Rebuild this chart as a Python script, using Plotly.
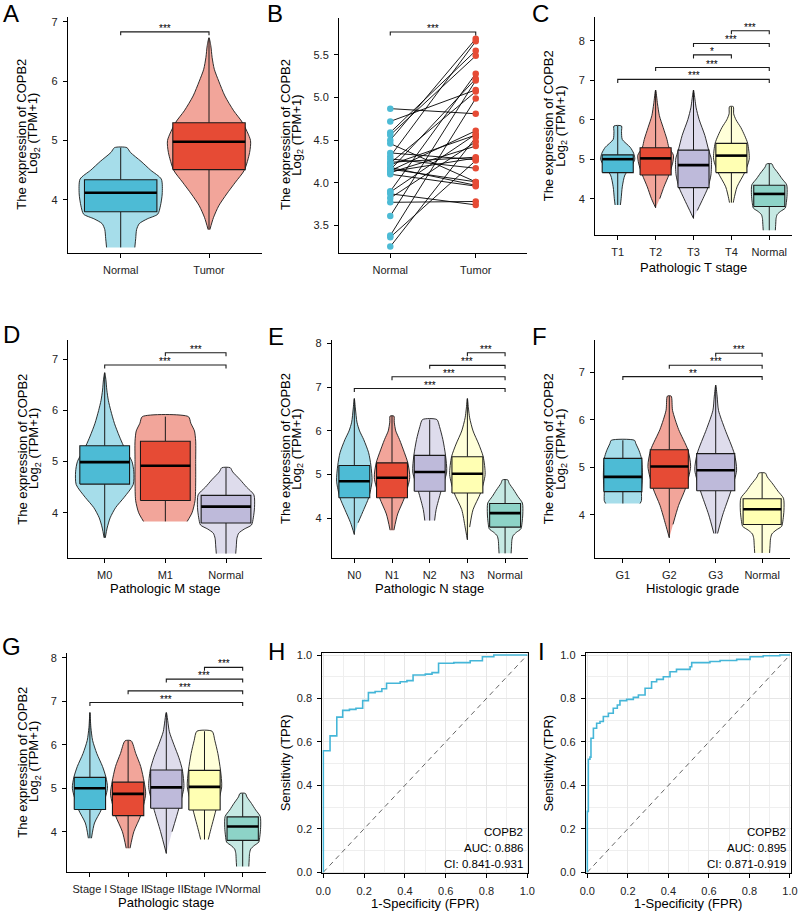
import plotly.graph_objects as go

FIG_W, FIG_H = 800, 912
FONT = "Liberation Sans, Arial, Helvetica, sans-serif"

# ---------------- data ----------------
A_CATS = ["Normal", "Tumor"]
B_CATS = ["Normal", "Tumor"]
C_CATS = ["T1", "T2", "T3", "T4", "Normal"]
D_CATS = ["M0", "M1", "Normal"]
E_CATS = ["N0", "N1", "N2", "N3", "Normal"]
F_CATS = ["G1", "G2", "G3", "Normal"]
G_CATS = ["Stage I", "Stage II", "Stage III", "Stage IV", "Normal"]

# box statistics: [min, q1, median, q3, max]
ST_NORMAL = [3.20, 3.80, 4.12, 4.34, 4.88]
ST_TUMOR = [3.50, 4.51, 4.98, 5.30, 6.73]
ST_T1 = [3.84, 4.66, 5.00, 5.11, 5.84]
ST_T2 = [3.77, 4.60, 5.02, 5.29, 6.75]
ST_T3 = [3.50, 4.28, 4.85, 5.23, 6.75]
ST_T4 = [3.90, 4.66, 5.09, 5.40, 6.33]
ST_M0 = [3.51, 4.56, 4.99, 5.31, 6.74]
ST_M1 = [3.83, 4.24, 4.92, 5.40, 5.88]
ST_N0 = [3.63, 4.47, 4.85, 5.21, 6.74]
ST_N1 = [3.73, 4.47, 4.93, 5.27, 6.34]
ST_N2 = [3.95, 4.62, 5.06, 5.44, 6.26]
ST_N3 = [3.51, 4.58, 5.02, 5.41, 6.74]
ST_G1 = [4.24, 4.49, 4.80, 5.19, 5.57]
ST_G2 = [3.52, 4.56, 5.02, 5.37, 6.50]
ST_G3 = [3.61, 4.51, 4.94, 5.29, 6.73]
ST_S1 = [3.85, 4.51, 5.00, 5.25, 6.74]
ST_S2 = [3.62, 4.37, 4.87, 5.14, 6.09]
ST_S3 = [3.50, 4.54, 5.02, 5.42, 6.74]
ST_S4 = [3.82, 4.50, 5.03, 5.41, 6.31]

# violin density outlines: expression levels and relative density (1 = widest)
DY_NORMAL = [3.20, 3.35, 3.50, 3.60, 3.68, 3.76, 3.90, 4.10, 4.35, 4.50, 4.65, 4.80, 4.88]
DW_NORMAL = [0.32, 0.34, 0.36, 0.42, 0.60, 0.84, 0.90, 0.94, 0.92, 0.68, 0.46, 0.22, 0.14]
DY_TUMOR = [3.50, 3.70, 3.90, 4.10, 4.30, 4.50, 4.80, 5.00, 5.30, 5.50, 5.75, 6.00, 6.20, 6.40, 6.60, 6.73]
DW_TUMOR = [0.02, 0.10, 0.22, 0.40, 0.60, 0.80, 0.92, 0.94, 0.76, 0.56, 0.36, 0.22, 0.12, 0.07, 0.04, 0.0]
DY_T1 = [3.84, 4.00, 4.30, 4.60, 4.80, 5.00, 5.15, 5.30, 5.50, 5.70, 5.84]
DW_T1 = [0.14, 0.18, 0.24, 0.38, 0.70, 0.90, 0.84, 0.66, 0.24, 0.20, 0.20]
DY_T2 = [3.77, 4.00, 4.30, 4.60, 4.90, 5.10, 5.30, 5.50, 5.80, 6.10, 6.40, 6.75]
DW_T2 = [0.0, 0.22, 0.44, 0.70, 0.90, 0.94, 0.70, 0.60, 0.40, 0.20, 0.10, 0.0]
DY_T3 = [3.50, 3.70, 4.00, 4.28, 4.60, 5.00, 5.23, 5.60, 6.00, 6.30, 6.50, 6.75]
DW_T3 = [0.0, 0.20, 0.50, 0.76, 0.92, 0.94, 0.80, 0.60, 0.30, 0.14, 0.08, 0.0]
DY_T4 = [3.90, 4.00, 4.30, 4.66, 5.00, 5.40, 5.60, 5.80, 6.00, 6.15, 6.33]
DW_T4 = [0.10, 0.14, 0.30, 0.70, 0.94, 0.86, 0.70, 0.50, 0.24, 0.12, 0.10]
DY_M0 = [3.51, 3.70, 3.90, 4.10, 4.30, 4.55, 4.80, 5.00, 5.31, 5.50, 5.75, 6.00, 6.20, 6.40, 6.60, 6.74]
DW_M0 = [0.02, 0.08, 0.18, 0.36, 0.64, 0.94, 0.96, 0.90, 0.62, 0.48, 0.32, 0.20, 0.12, 0.07, 0.04, 0.0]
DY_M1 = [3.83, 4.00, 4.24, 4.60, 5.00, 5.40, 5.60, 5.75, 5.88]
DW_M1 = [0.72, 0.88, 0.98, 1.0, 1.0, 1.0, 0.96, 0.84, 0.76]
DY_N0 = [3.63, 3.90, 4.20, 4.47, 4.85, 5.21, 5.50, 5.80, 6.00, 6.20, 6.50, 6.74]
DW_N0 = [0.0, 0.20, 0.50, 0.76, 0.94, 0.88, 0.76, 0.50, 0.28, 0.14, 0.06, 0.0]
DY_N1 = [3.73, 4.10, 4.47, 4.93, 5.27, 5.50, 5.80, 6.00, 6.20, 6.34]
DW_N1 = [0.10, 0.30, 0.66, 0.94, 0.84, 0.66, 0.40, 0.20, 0.12, 0.10]
DY_N2 = [3.95, 4.20, 4.62, 5.06, 5.44, 5.80, 6.10, 6.26]
DW_N2 = [0.26, 0.34, 0.60, 0.90, 0.84, 0.70, 0.52, 0.38]
DY_N3 = [3.51, 3.80, 4.20, 4.58, 5.00, 5.41, 5.70, 6.00, 6.30, 6.50, 6.74]
DW_N3 = [0.0, 0.12, 0.30, 0.70, 0.94, 0.84, 0.60, 0.30, 0.12, 0.06, 0.0]
DY_G1 = [4.24, 4.30, 4.49, 4.80, 5.19, 5.35, 5.50, 5.57]
DW_G1 = [0.74, 0.80, 0.80, 0.84, 0.80, 0.70, 0.56, 0.50]
DY_G2 = [3.52, 3.80, 4.20, 4.56, 5.02, 5.37, 5.80, 6.20, 6.50]
DW_G2 = [0.0, 0.16, 0.40, 0.70, 0.92, 0.80, 0.40, 0.14, 0.08]
DY_G3 = [3.61, 4.00, 4.51, 4.94, 5.29, 5.80, 6.20, 6.50, 6.73]
DW_G3 = [0.08, 0.30, 0.66, 0.90, 0.80, 0.40, 0.12, 0.06, 0.0]
DY_S1 = [3.85, 4.20, 4.51, 5.00, 5.25, 5.50, 5.80, 6.10, 6.40, 6.74]
DW_S1 = [0.08, 0.24, 0.60, 0.92, 0.84, 0.66, 0.36, 0.14, 0.05, 0.0]
DY_S2 = [3.62, 4.00, 4.37, 4.87, 5.14, 5.50, 5.80, 6.09]
DW_S2 = [0.10, 0.30, 0.66, 0.92, 0.84, 0.66, 0.40, 0.16]
DY_S3 = [3.50, 4.00, 4.54, 5.02, 5.42, 5.70, 6.00, 6.30, 6.74]
DW_S3 = [0.0, 0.30, 0.66, 0.92, 0.84, 0.66, 0.40, 0.16, 0.0]
DY_S4 = [3.82, 4.00, 4.50, 5.03, 5.41, 5.80, 6.10, 6.31]
DW_S4 = [0.20, 0.30, 0.60, 0.90, 0.84, 0.70, 0.54, 0.40]

# significance comparisons: (group a, group b, label)
A_SIG = [(0, 1, "***")]
B_SIG = [(0, 1, "***")]
C_SIG = [(3, 4, "***"), (2, 4, "***"), (2, 3, "*"), (1, 4, "***"), (0, 4, "***")]
D_SIG = [(1, 2, "***"), (0, 2, "***")]
E_SIG = [(3, 4, "***"), (2, 4, "***"), (1, 4, "***"), (0, 4, "***")]
F_SIG = [(2, 3, "***"), (1, 3, "***"), (0, 3, "**")]
G_SIG = [(3, 4, "***"), (2, 4, "***"), (1, 4, "***"), (0, 4, "***")]

# paired samples (panel B)
B_NORMAL = [4.87, 4.72, 4.59, 4.56, 4.50, 4.46, 4.35, 4.31, 4.28, 4.24, 4.21, 4.18, 4.15, 4.14,
            4.12, 4.10, 3.90, 3.87, 3.82, 3.77, 3.61, 3.38, 3.36, 3.25, 4.23, 4.16, 4.13, 3.89]
B_TUMOR = [4.81, 5.09, 5.55, 5.49, 5.69, 4.01, 4.27, 5.66, 4.17, 4.30, 4.56, 3.97, 5.22, 4.61,
           4.43, 3.96, 5.28, 3.74, 4.48, 3.78, 5.20, 4.99, 4.26, 4.53, 5.07, 4.01, 4.29, 4.57]

# ROC curves (step vertices)
H_FPR = [0.0, 0.0, 0.033, 0.066, 0.095, 0.128, 0.16, 0.193, 0.221, 0.254, 0.287, 0.31, 0.377,
         0.41, 0.44, 0.50, 0.533, 0.565, 0.64, 0.72, 0.78, 0.836, 1.0]
H_TPR = [0.0, 0.559, 0.628, 0.714, 0.745, 0.750, 0.755, 0.79, 0.827, 0.832, 0.845, 0.87, 0.877,
         0.882, 0.908, 0.912, 0.919, 0.962, 0.965, 0.974, 0.992, 1.0, 1.0]
I_FPR = [0.0, 0.0, 0.005, 0.013, 0.018, 0.03, 0.046, 0.0625, 0.079, 0.104, 0.128, 0.148, 0.161,
         0.194, 0.227, 0.252, 0.276, 0.285, 0.317, 0.342, 0.375, 0.408, 0.44, 0.507, 0.515, 0.605,
         0.655, 0.737, 0.803, 0.868, 0.95, 1.0]
I_TPR = [0.0, 0.28, 0.52, 0.53, 0.617, 0.663, 0.686, 0.694, 0.717, 0.732, 0.755, 0.77, 0.79,
         0.796, 0.805, 0.816, 0.816, 0.847, 0.877, 0.888, 0.9, 0.923, 0.934, 0.946, 0.965, 0.97,
         0.975, 0.98, 0.992, 0.997, 1.0, 1.0]
H_TEXT = ["COPB2", "AUC: 0.886", "CI: 0.841-0.931"]
I_TEXT = ["COPB2", "AUC: 0.895", "CI: 0.871-0.919"]

# ---------------- styles ----------------
PAL = ["#4DBBD5", "#E64B35", "#BEBADA", "#FFFFB3", "#8DD3C7"]
LINE = "#1a1a1a"
VHALF = 0.5   # max violin half width (category units)
BHALF = 0.41  # box half width
TICK_COL = "#222222"
ROC_COL = "#45B6D8"


def light(hexc, a=0.5):
    h = hexc.lstrip("#")
    r, g, b = int(h[0:2], 16), int(h[2:4], 16), int(h[4:6], 16)
    return f"rgba({r},{g},{b},{a})"


def px_x(p):
    return p / FIG_W


def px_y(p):
    return 1 - p / FIG_H


fig = go.Figure()
layout = dict(
    width=FIG_W, height=FIG_H, margin=dict(l=0, r=0, t=0, b=0),
    paper_bgcolor="white", plot_bgcolor="white", template="none",
    showlegend=False, font=dict(family=FONT, color="black"),
)
annotations = []


def axis_names(n):
    return ("xaxis" if n == 1 else f"xaxis{n}", "yaxis" if n == 1 else f"yaxis{n}",
            "x" if n == 1 else f"x{n}", "y" if n == 1 else f"y{n}")


def classic_axes(n, box, xr, yr, cats, ytickvals, yfmt=None):
    xk, yk, xa, ya = axis_names(n)
    x0, x1, y0, y1 = box
    common = dict(showline=True, linecolor="black", linewidth=1, mirror=False, ticks="outside",
                  ticklen=4, tickwidth=1, tickcolor="black", showgrid=False, zeroline=False,
                  tickfont=dict(size=11, color=TICK_COL, family=FONT), ticklabelstandoff=3)
    layout[xk] = dict(domain=[px_x(x0), px_x(x1)], range=list(xr), anchor=ya,
                      tickvals=list(range(len(cats))), ticktext=cats, tickangle=0, **common)
    yd = dict(domain=[px_y(y1), px_y(y0)], range=list(yr), anchor=xa, tickvals=ytickvals, **common)
    if yfmt:
        yd["tickformat"] = yfmt
    layout[yk] = yd


def add_brackets(n, box, yr, sigs, levels):
    _, _, xa, ya = axis_names(n)
    ppu = (box[3] - box[2]) / (yr[1] - yr[0])
    d = 3.5 / ppu
    for (a, b, lab), lv in zip(sigs, levels):
        fig.add_trace(go.Scatter(x=[a, a, b, b], y=[lv - d, lv, lv, lv - d], mode="lines",
                                 line=dict(color=LINE, width=1.1), xaxis=xa, yaxis=ya,
                                 hoverinfo="skip"))
        annotations.append(dict(x=(a + b) / 2, y=lv, xref=xa, yref=ya, text=lab, showarrow=False,
                                yanchor="middle", yshift=3.5,
                                font=dict(size=10, color="black", family=FONT)))


def violin_panel(n, box, xr, yr, cats, stats, dens, sigs, levels, yt):
    _, _, xa, ya = axis_names(n)
    classic_axes(n, box, xr, yr, cats, yt)
    for i, (st, (dy, dw)) in enumerate(zip(stats, dens)):
        col = PAL[i]
        lx = [i - VHALF * w for w in dw]
        ly = list(dy)
        rx = [i + VHALF * w for w in dw][::-1]
        ry = list(dy)[::-1]
        if dw[-1] == 0:
            rx, ry = rx[1:], ry[1:]
        if dw[0] == 0:
            rx, ry = rx[:-1], ry[:-1]
        fig.add_trace(go.Scatter(x=lx + rx, y=ly + ry, mode="lines", fill="toself",
                                 fillcolor=light(col),
                                 line=dict(color=LINE, width=0.9, shape="spline", smoothing=0.7),
                                 xaxis=xa, yaxis=ya, hoverinfo="skip"))
        mn, q1, md, q3, mx = st
        fig.add_trace(go.Scatter(x=[i, i, None, i, i], y=[mn, q1, None, q3, mx], mode="lines",
                                 line=dict(color=LINE, width=1), xaxis=xa, yaxis=ya,
                                 hoverinfo="skip"))
        fig.add_trace(go.Scatter(x=[i - BHALF, i + BHALF, i + BHALF, i - BHALF, i - BHALF],
                                 y=[q1, q1, q3, q3, q1], mode="lines", fill="toself",
                                 fillcolor=col, line=dict(color=LINE, width=1.1),
                                 xaxis=xa, yaxis=ya, hoverinfo="skip"))
        fig.add_trace(go.Scatter(x=[i - BHALF, i + BHALF], y=[md, md], mode="lines",
                                 line=dict(color="black", width=2.6), xaxis=xa, yaxis=ya,
                                 hoverinfo="skip"))
    add_brackets(n, box, yr, sigs, levels)


def ylab(xc1, xc2, yc, two=True, text1="The expression of COPB2"):
    annotations.append(dict(x=px_x(xc1), y=px_y(yc), xref="paper", yref="paper", text=text1,
                            textangle=-90, showarrow=False, xanchor="center", yanchor="middle",
                            font=dict(size=13, color="black")))
    if two:
        annotations.append(dict(x=px_x(xc2), y=px_y(yc), xref="paper", yref="paper",
                                text="Log<sub>2</sub> (TPM+1)", textangle=-90, showarrow=False,
                                xanchor="center", yanchor="middle",
                                font=dict(size=13, color="black")))


def xlab(xc, yc, text):
    annotations.append(dict(x=px_x(xc), y=px_y(yc), xref="paper", yref="paper", text=text,
                            showarrow=False, xanchor="center", yanchor="middle",
                            font=dict(size=13, color="black")))


def letter(x, yc, t):
    annotations.append(dict(x=px_x(x), y=px_y(yc), xref="paper", yref="paper", text=t,
                            showarrow=False, xanchor="left", yanchor="middle",
                            font=dict(size=24, color="black")))


# ---- A ----
box_A = (67.7, 262.0, 17, 253)
violin_panel(1, box_A, (-0.6, 1.6), (3.106, 7.08), A_CATS, [ST_NORMAL, ST_TUMOR],
             [(DY_NORMAL, DW_NORMAL), (DY_TUMOR, DW_TUMOR)], A_SIG, [6.83], [4, 5, 6, 7])
ylab(21.7, 34, 134)
letter(1, 13.5, "A")

# ---- B ----
box_B = (339, 527, 18, 253)
classic_axes(2, box_B, (-0.6, 1.6), (3.175, 5.934), B_CATS, [3.5, 4.0, 4.5, 5.0, 5.5], ".1f")
lx, ly = [], []
for a, b in zip(B_NORMAL, B_TUMOR):
    lx += [0, 1, None]
    ly += [a, b, None]
fig.add_trace(go.Scatter(x=lx, y=ly, mode="lines", line=dict(color="black", width=0.9),
                         xaxis="x2", yaxis="y2", hoverinfo="skip"))
fig.add_trace(go.Scatter(x=[0] * len(B_NORMAL), y=B_NORMAL, mode="markers",
                         marker=dict(color=PAL[0], size=6.5), xaxis="x2", yaxis="y2"))
fig.add_trace(go.Scatter(x=[1] * len(B_TUMOR), y=B_TUMOR, mode="markers",
                         marker=dict(color=PAL[1], size=6.5), xaxis="x2", yaxis="y2"))
add_brackets(2, box_B, (3.175, 5.934), B_SIG, [5.77])
ylab(285, 296.7, 135)
letter(265, 13.5, "B")

# ---- C ----
box_C = (595, 792, 17, 235)
violin_panel(3, box_C, (-0.6, 4.6), (3.08, 8.6), C_CATS, [ST_T1, ST_T2, ST_T3, ST_T4, ST_NORMAL],
             [(DY_T1, DW_T1), (DY_T2, DW_T2), (DY_T3, DW_T3), (DY_T4, DW_T4),
              (DY_NORMAL, DW_NORMAL)], C_SIG, [8.25, 7.93, 7.64, 7.32, 7.02], [4, 5, 6, 7, 8])
ylab(548.3, 560.7, 126)
xlab(693.5, 267, "Pathologic T stage")
letter(530, 13.5, "C")

# ---- D ----
box_D = (68.3, 262.4, 340, 557.7)
violin_panel(4, box_D, (-0.6, 2.6), (3.12, 7.38), D_CATS, [ST_M0, ST_M1, ST_NORMAL],
             [(DY_M0, DW_M0), (DY_M1, DW_M1), (DY_NORMAL, DW_NORMAL)], D_SIG, [7.13, 6.89],
             [4, 5, 6, 7])
ylab(21.7, 34, 449)
xlab(165.4, 588, "Pathologic M stage")
letter(1, 334, "D")

# ---- E ----
box_E = (331.7, 527.7, 340, 557.7)
violin_panel(5, box_E, (-0.6, 4.6), (3.1, 8.08), E_CATS, [ST_N0, ST_N1, ST_N2, ST_N3, ST_NORMAL],
             [(DY_N0, DW_N0), (DY_N1, DW_N1), (DY_N2, DW_N2), (DY_N3, DW_N3),
              (DY_NORMAL, DW_NORMAL)], E_SIG, [7.79, 7.50, 7.24, 6.97], [4, 5, 6, 7, 8])
ylab(285, 296.7, 449)
xlab(429.7, 588, "Pathologic N stage")
letter(266, 336.5, "E")

# ---- F ----
box_F = (595, 790, 340, 557.7)
violin_panel(6, box_F, (-0.6, 3.6), (3.1, 7.68), F_CATS, [ST_G1, ST_G2, ST_G3, ST_NORMAL],
             [(DY_G1, DW_G1), (DY_G2, DW_G2), (DY_G3, DW_G3), (DY_NORMAL, DW_NORMAL)],
             F_SIG, [7.40, 7.15, 6.91], [4, 5, 6, 7])
ylab(548.3, 560.7, 449)
xlab(692.5, 588, "Histologic grade")
letter(530, 336.5, "F")

# ---- G ----
box_G = (67.0, 265.6, 653, 871.7)
violin_panel(7, box_G, (-0.6, 4.6), (3.08, 8.11), G_CATS, [ST_S1, ST_S2, ST_S3, ST_S4, ST_NORMAL],
             [(DY_S1, DW_S1), (DY_S2, DW_S2), (DY_S3, DW_S3), (DY_S4, DW_S4),
              (DY_NORMAL, DW_NORMAL)], G_SIG, [7.78, 7.51, 7.24, 6.97], [4, 5, 6, 7, 8])
ylab(21.7, 34, 762)
xlab(166, 902.7, "Pathologic stage")
letter(0, 646, "G")


# ---- ROC panels ----
def roc_panel(n, box, xr, yr, fpr, tpr, texts, ylab_x, xlab_c, let_x, let):
    xk, yk, xa, ya = axis_names(n)
    x0, x1, y0, y1 = box
    common = dict(showline=True, linecolor="black", linewidth=1, mirror=True, ticks="outside",
                  ticklen=4, tickwidth=1, tickcolor="black", showgrid=True, gridcolor="#E6E6E6",
                  gridwidth=1.1, zeroline=False, tick0=0, dtick=0.2, tickformat=".1f",
                  tickfont=dict(size=11, color=TICK_COL, family=FONT), ticklabelstandoff=3,
                  minor=dict(dtick=0.1, tick0=0, showgrid=True, gridcolor="#EFEFEF",
                             gridwidth=0.6, ticks=""))
    layout[xk] = dict(domain=[px_x(x0), px_x(x1)], range=list(xr), anchor=ya, **common)
    layout[yk] = dict(domain=[px_y(y1), px_y(y0)], range=list(yr), anchor=xa, **common)
    fig.add_trace(go.Scatter(x=[0, 1], y=[0, 1], mode="lines",
                             line=dict(color="#666666", width=1, dash="5px,4px"),
                             xaxis=xa, yaxis=ya, hoverinfo="skip"))
    fig.add_trace(go.Scatter(x=fpr, y=tpr, mode="lines",
                             line=dict(color=ROC_COL, width=1.6, shape="hv"),
                             xaxis=xa, yaxis=ya, hoverinfo="skip"))
    for k, t in enumerate(texts):
        annotations.append(dict(x=px_x(x1 - 3), y=px_y(831.7 + 16.2 * k), xref="paper",
                                yref="paper", text=t, showarrow=False, xanchor="right",
                                yanchor="middle", font=dict(size=11.5, color="black")))
    ylab(ylab_x, 0, (y0 + y1) / 2, two=False, text1="Sensitivity (TPR)")
    xlab(xlab_c, 903, "1-Specificity (FPR)")
    letter(let_x, 651, let)


roc_panel(8, (322.3, 528.3, 653.3, 873.3), (-0.005, 1.005), (-0.005, 1.008), H_FPR, H_TPR,
          H_TEXT, 285, 425, 266, "H")
roc_panel(9, (585.7, 791.0, 653.3, 873.3), (-0.008, 1.005), (-0.005, 1.008), I_FPR, I_TPR,
          I_TEXT, 548.3, 688, 536, "I")

layout["annotations"] = annotations
fig.update_layout(**layout)
fig.write_html("out.html")
